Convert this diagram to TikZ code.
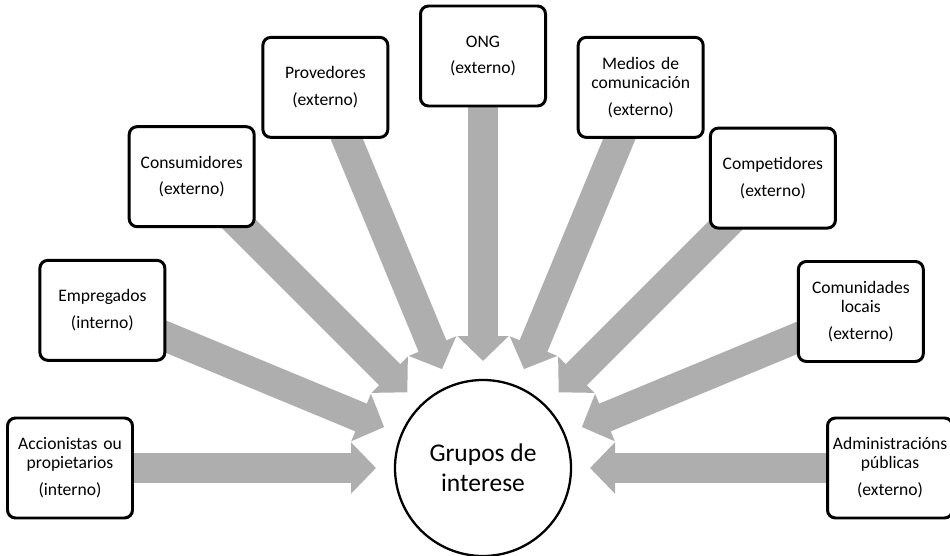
\documentclass[tikz,border=0pt]{standalone}
\usepackage{fontspec}
\setmainfont{Carlito}
\usetikzlibrary{arrows.meta,calc,backgrounds}
\definecolor{frechagris}{RGB}{174,174,174}
\newcommand{\TipDist}{2.14}
\tikzset{
  grupo/.style={circle, draw, line width=1.3pt, fill=white, minimum size=3.52cm,
    inner sep=0pt, align=center, font=\fontsize{14.5}{17}\selectfont},
  parte/.style={draw, rounded corners=0.16cm, line width=1.7pt, fill=white,
    minimum width=2.5cm, minimum height=2cm, inner sep=0pt, text width=2.4cm,
    align=center, font=\fontsize{10}{10.8}\selectfont},
  bloque/.style={frechagris, line width=0.6cm, -{Triangle[length=0.5cm, width=1cm]}}
}

\begin{document}
\begin{tikzpicture}
  \useasboundingbox (0,0) rectangle (19,-11.12);
  \node[grupo] (G) at (9.66,-9.36) {Grupos de\\interese};
  % stakeholders on a half ring, arrows under the boxes
  \foreach \n/\a/\r/\txt in {
      acc/180/8.26/{Accionistas ou\\propietarios\\[4.5pt](interno)},
      emp/157.5/8.24/{Empregados\\[4.5pt](interno)},
      con/135/8.24/{Consumidores\\[4.5pt](externo)},
      pro/112.5/8.24/{Provedores\\[4.5pt](externo)},
      ong/90/8.24/{ONG\\[4.5pt](externo)},
      med/67.5/8.24/{Medios de\\comunicación\\[4.5pt](externo)},
      com/45/8.2/{Competidores\\[4.5pt](externo)},
      loc/22.5/8.18/{Comunidades\\locais\\[4.5pt](externo)},
      adm/0/8.14/{Administracións\\públicas\\[4.5pt](externo)}}{
    \node[parte] (\n) at ($(G)+(\a:\r)$) {\txt};
    \coordinate (t-\n) at ($(G)+(\a:\TipDist)$);
    \begin{pgfonlayer}{background}
      \draw[bloque] (\n.center) -- (t-\n);
    \end{pgfonlayer}
  }
\end{tikzpicture}
\end{document}
